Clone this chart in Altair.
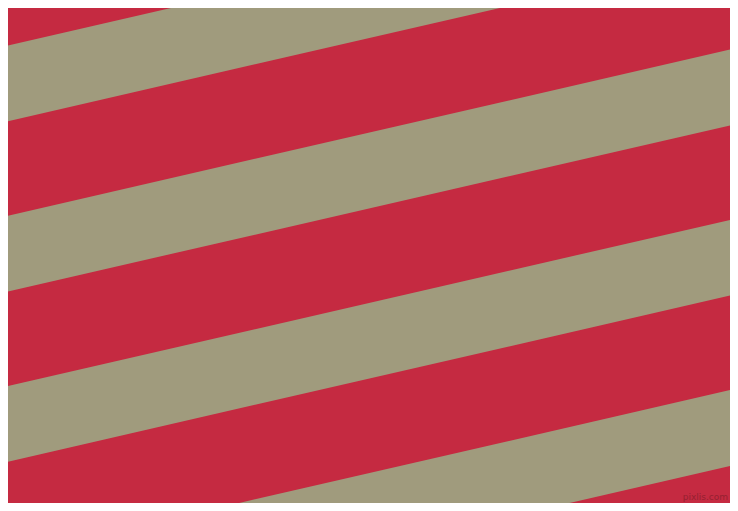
import altair as alt
import pandas as pd

# Stripe geometry (window pixel coordinates, y downward)
edge_x = [0, 738]
slope = 0.23                      # rise per pixel of the stripe edges
band_top = [47.3, 217.5, 387.8, 558.0]     # khaki band top edge at x=0
band_bottom = [123.0, 293.3, 463.5, 634.0]  # khaki band bottom edge at x=0
red = "#C52A41"
khaki = "#A09B7D"
mark_text = ["pixlis.com"]

rows = []
for i, (t, b) in enumerate(zip(band_top, band_bottom)):
    for x in edge_x:
        rows.append({"band": i, "x": x, "y": t - slope * x, "y2": b - slope * x})
df = pd.DataFrame(rows)

xs = alt.Scale(domain=[8, 730], nice=False, zero=False)
ys = alt.Scale(domain=[8, 503], nice=False, zero=False, reverse=True)

bands = alt.Chart(df).mark_area(color=khaki, clip=True, opacity=1).encode(
    x=alt.X("x:Q", scale=xs, axis=None),
    y=alt.Y("y:Q", scale=ys, axis=None),
    y2="y2:Q",
    detail="band:N",
)

wm = alt.Chart(pd.DataFrame({"t": mark_text, "x": [728], "y": [500]})).mark_text(
    align="right", baseline="alphabetic", fontSize=9, font="DejaVu Sans",
    color="#8A1F2E", opacity=0.8
).encode(
    x=alt.X("x:Q", scale=xs, axis=None),
    y=alt.Y("y:Q", scale=ys, axis=None),
    text="t:N",
)

chart = alt.layer(bands, wm).properties(
    width=722, height=495, padding=0, autosize=alt.AutoSizeParams(type="none"),
    background=red,
).configure_view(stroke=None, fill=red)

chart.save("out.html", embed_options={"renderer": "svg", "actions": False})
